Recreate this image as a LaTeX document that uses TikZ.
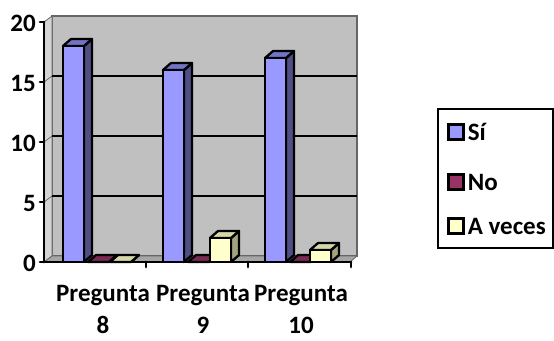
\documentclass[tikz,border=0pt]{standalone}
\usepackage{fontspec}
\setmainfont{Carlito}
\definecolor{siFront}{HTML}{9999FF}
\definecolor{siSide}{HTML}{4F4F85}
\definecolor{siTop}{HTML}{7373C6}
\definecolor{noFront}{HTML}{993366}
\definecolor{noSide}{HTML}{5C1F3D}
\definecolor{noTop}{HTML}{7A2952}
\definecolor{avFront}{HTML}{FFFFCC}
\definecolor{avSide}{HTML}{A3A37F}
\definecolor{avTop}{HTML}{D6D6A8}
\definecolor{wallGray}{HTML}{C0C0C0}
\definecolor{sideGray}{HTML}{D4D4D4}
\definecolor{floorGray}{HTML}{A6A6A6}
\begin{document}
\begin{tikzpicture}[x=1pt,y=-1pt,
    axis/.style={line width=2.8pt,line cap=round},
    grid/.style={line width=2.8pt},
    face/.style={draw=black,line width=2.3pt,line join=round},
    lbl/.style={font=\bfseries\fontsize{25}{32}\selectfont,inner sep=0pt},
    key/.style={draw=black,line width=2.2pt,minimum size=15pt,inner sep=0pt}]
    \useasboundingbox (0,0) rectangle (554,340);

    % paredes y suelo
    \fill[wallGray,draw=gray!80!black,line width=1.8pt] (52,16) rectangle (357,256);
    \fill[sideGray,draw=gray!80!black,line width=0.8pt] (44,22) -- (52,16) -- (52,256) -- (44,262) -- cycle;
    \fill[floorGray,draw=gray!80!black,line width=0.8pt] (44,262) -- (52,256) -- (357,256) -- (350,262) -- cycle;

    % lineas de division
    \draw[grid] (52,196) -- (357,196);
    \draw[grid] (52,136) -- (357,136);
    \draw[grid] (52,76) -- (357,76);
    \draw[gray!70!black,line width=0.6pt] (44,202) -- (52,196);
    \draw[gray!70!black,line width=0.6pt] (44,142) -- (52,136);
    \draw[gray!70!black,line width=0.6pt] (44,82) -- (52,76);

    % barras: x / valor / color
    \foreach \x/\v/\c in {63/18/si,88/0/no,110/0/av,
                          163/16/si,188/0/no,210/2/av,
                          265/17/si,290/0/no,310/1/av}{
        \pgfmathsetmacro{\h}{262-12*\v}
        \filldraw[face,fill=\c Side] (\x+21,262) -- (\x+29,255) -- (\x+29,\h-7) -- (\x+21,\h) -- cycle;
        \filldraw[face,fill=\c Top] (\x,\h) -- (\x+8,\h-7) -- (\x+29,\h-7) -- (\x+21,\h) -- cycle;
        \filldraw[face,fill=\c Front] (\x,262) rectangle (\x+21,\h);
    }

    % ejes
    \draw[axis] (44,22) -- (44,262);
    \draw[axis] (44,262) -- (351,262);
    \draw[axis] (40,22) -- (44,22);
    \draw[axis] (40,82) -- (44,82);
    \draw[axis] (40,142) -- (44,142);
    \draw[axis] (40,202) -- (44,202);
    \draw[axis] (40,262) -- (44,262);
    \draw[axis] (146,262) -- (146,267);
    \draw[axis] (248,262) -- (248,267);
    \draw[axis] (351,262) -- (351,267);

    \node[lbl,anchor=east] (y20) at (36,23) {20};
    \node[lbl,anchor=east] (y15) at (36,83) {15};
    \node[lbl,anchor=east] (y10) at (36,143) {10};
    \node[lbl,anchor=east] (y5) at (36,203) {5};
    \node[lbl,anchor=east] (y0) at (36,263) {0};

    \node[lbl,align=center,anchor=north] (p8) at (103,285) {Pregunta\\8};
    \node[lbl,align=center,anchor=north] (p9) at (203,285) {Pregunta\\9};
    \node[lbl,align=center,anchor=north] (p10) at (301,285) {Pregunta\\10};

    % leyenda
    \draw[line width=2.4pt] (438,109) rectangle (553,248);
    \node[key,fill=siFront] (kSi) at (456,132) {};
    \node[key,fill=noFront] (kNo) at (456,182) {};
    \node[key,fill=avFront] (kAv) at (456,226) {};
    \node[lbl,anchor=west] (tSi) at (kSi.east) [xshift=3pt] {Sí};
    \node[lbl,anchor=west] (tNo) at (kNo.east) [xshift=3pt] {No};
    \node[lbl,anchor=west] (tAv) at (kAv.east) [xshift=3pt] {A veces};
\end{tikzpicture}
\end{document}
